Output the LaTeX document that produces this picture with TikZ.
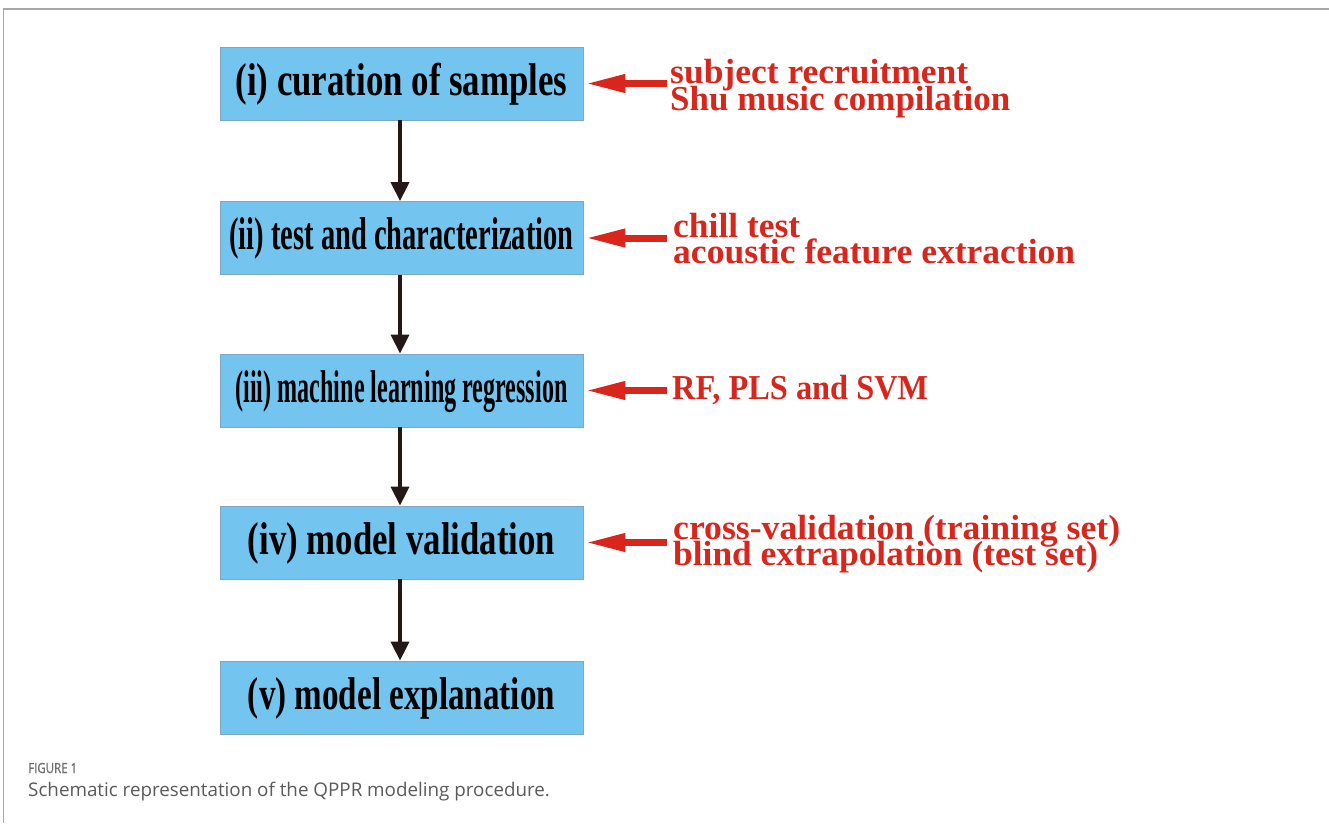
\documentclass[tikz,border=0pt]{standalone}
\usepackage{fontspec}
\setmainfont{Liberation Serif}
\newfontfamily\capfont{Open Sans}
\newfontfamily\capfontsb{Open Sans}[FakeBold=1.2]
\usetikzlibrary{arrows.meta}
\definecolor{boxblue}{HTML}{73C4EE}
\definecolor{boxedge}{HTML}{7FA6C4}
\definecolor{redtxt}{HTML}{D9261C}
\definecolor{darkarrow}{HTML}{231815}
\definecolor{framegray}{HTML}{A8A8A8}
\definecolor{capgray}{HTML}{707070}
\definecolor{captext}{HTML}{5A5A5A}
\newcommand{\wfit}[2]{\resizebox{#1pt}{\height}{#2}}
\begin{document}
\begin{tikzpicture}[x=1pt,y=-1pt,
 stagebox/.style={draw=boxedge, line width=0.8pt, fill=boxblue, minimum width=363pt, minimum height=73pt, inner sep=0pt, text=black, font=\fontsize{46}{52}\selectfont\bfseries, text height=32pt, text depth=8.5pt},
 flowarrow/.style={draw=darkarrow, line width=3.6pt, -{Triangle[width=18pt,length=19pt]}},
 inarrow/.style={draw=redtxt, line width=7pt, -{Triangle[width=17pt,length=40pt]}},
 note/.style={anchor=base west, inner sep=0pt, text=redtxt, font=\fontsize{35}{35}\selectfont\bfseries},
]
\useasboundingbox (0,0) rectangle (1329,823);
% frame
\draw[framegray, line width=2pt] (2.5,9) -- (1329,9);
\draw[framegray, line width=1pt] (3,9) -- (3,823);
% stages
\node[stagebox] (b1) at (401.5,83.5) {\wfit{332}{(i) curation of samples}};
\node[stagebox] (b2) at (401.5,238) {\wfit{344}{(ii) test and characterization}};
\node[stagebox] (b3) at (401.5,390.5) {\wfit{332}{(iii) machine learning regression}};
\node[stagebox] (b4) at (401.5,542.5) {\wfit{307}{(iv) model validation}};
\node[stagebox] (b5) at (401.5,697.5) {\wfit{307}{(v) model explanation}};
% flow arrows
\draw[flowarrow] ([xshift=-1.5pt]b1.south) -- ([xshift=-1.5pt]b2.north);
\draw[flowarrow] ([xshift=-1.5pt]b2.south) -- ([xshift=-1.5pt]b3.north);
\draw[flowarrow] ([xshift=-1.5pt]b3.south) -- ([xshift=-1.5pt]b4.north);
\draw[flowarrow] ([xshift=-1.5pt]b4.south) -- ([xshift=-1.5pt]b5.north);
% input arrows
\coordinate (s1) at (667,83.5);
\coordinate (s2) at (667,238);
\coordinate (s3) at (667,390.5);
\coordinate (s4) at (667,542.5);
\draw[inarrow] (s1) -- ([xshift=2pt]b1.east);
\draw[inarrow] (s2) -- ([xshift=2pt]b2.east);
\draw[inarrow] (s3) -- ([xshift=2pt]b3.east);
\draw[inarrow] (s4) -- ([xshift=2pt]b4.east);
% notes
\node[note] (n1a) at (670,83) {\wfit{298}{subject recruitment}};
\node[note] (n1b) at (670,110) {\wfit{340}{Shu music compilation}};
\node[note] (n2a) at (673,237) {\wfit{127}{chill test}};
\node[note] (n2b) at (673,263.5) {\wfit{402}{acoustic feature extraction}};
\node[note] (n3a) at (672,399) {\wfit{256}{RF, PLS and SVM}};
\node[note] (n4a) at (673,539) {\wfit{447}{cross-validation (training set)}};
\node[note] (n4b) at (673,565.5) {\wfit{425}{blind extrapolation (test set)}};
% caption
\node[anchor=base west, inner sep=0pt, text=capgray, font=\capfontsb\fontsize{14}{16}\selectfont] (fig) at (28,773) {\wfit{49}{FIGURE 1}};
\node[anchor=base west, inner sep=0pt, text=captext, font=\capfont\fontsize{18.8}{22}\selectfont] (cap) at (28,796) {Schematic representation of the QPPR modeling procedure.};
\end{tikzpicture}
\end{document}
